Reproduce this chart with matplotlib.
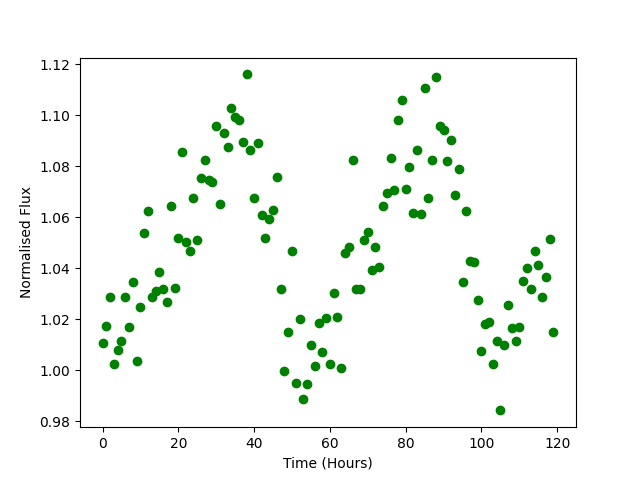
import matplotlib
matplotlib.use("Agg")
import matplotlib.pyplot as plt

# hourly readings
hours = list(range(120))
flux = [
    1.0106, 1.0176, 1.0286, 1.0024, 1.0078, 1.0114, 1.0286, 1.0169, 1.0345, 1.0035,
    1.0247, 1.0540, 1.0627, 1.0286, 1.0310, 1.0384, 1.0320, 1.0267, 1.0645, 1.0325,
    1.0518, 1.0855, 1.0502, 1.0470, 1.0675, 1.0510, 1.0753, 1.0824, 1.0745, 1.0740,
    1.0957, 1.0651, 1.0933, 1.0875, 1.1031, 1.0992, 1.0984, 1.0894, 1.1161, 1.0863,
    1.0675, 1.0890, 1.0608, 1.0518, 1.0592, 1.0631, 1.0757, 1.0318, 0.9996, 1.0149,
    1.0467, 0.9950, 1.0200, 0.9886, 0.9945, 1.0098, 1.0016, 1.0184, 1.0071, 1.0204,
    1.0024, 1.0302, 1.0208, 1.0008, 1.0459, 1.0482, 1.0824, 1.0318, 1.0318, 1.0510,
    1.0541, 1.0392, 1.0482, 1.0404, 1.0643, 1.0694, 1.0835, 1.0706, 1.0984, 1.1059,
    1.0710, 1.0796, 1.0616, 1.0863, 1.0612, 1.1106, 1.0678, 1.0824, 1.1149, 1.0957,
    1.0941, 1.0820, 1.0902, 1.0686, 1.0788, 1.0345, 1.0624, 1.0431, 1.0427, 1.0275,
    1.0075, 1.0180, 1.0188, 1.0024, 1.0114, 0.9843, 1.0098, 1.0255, 1.0165, 1.0114,
    1.0169, 1.0349, 1.0400, 1.0318, 1.0470, 1.0412, 1.0286, 1.0365, 1.0514, 1.0149,
]

fig, ax = plt.subplots(figsize=(6.4, 4.8), dpi=100)
ax.scatter(hours, flux, color='green')
ax.set_xlabel('Time (Hours)')
ax.set_ylabel('Normalised Flux')

fig.savefig('out.png', dpi=100)
